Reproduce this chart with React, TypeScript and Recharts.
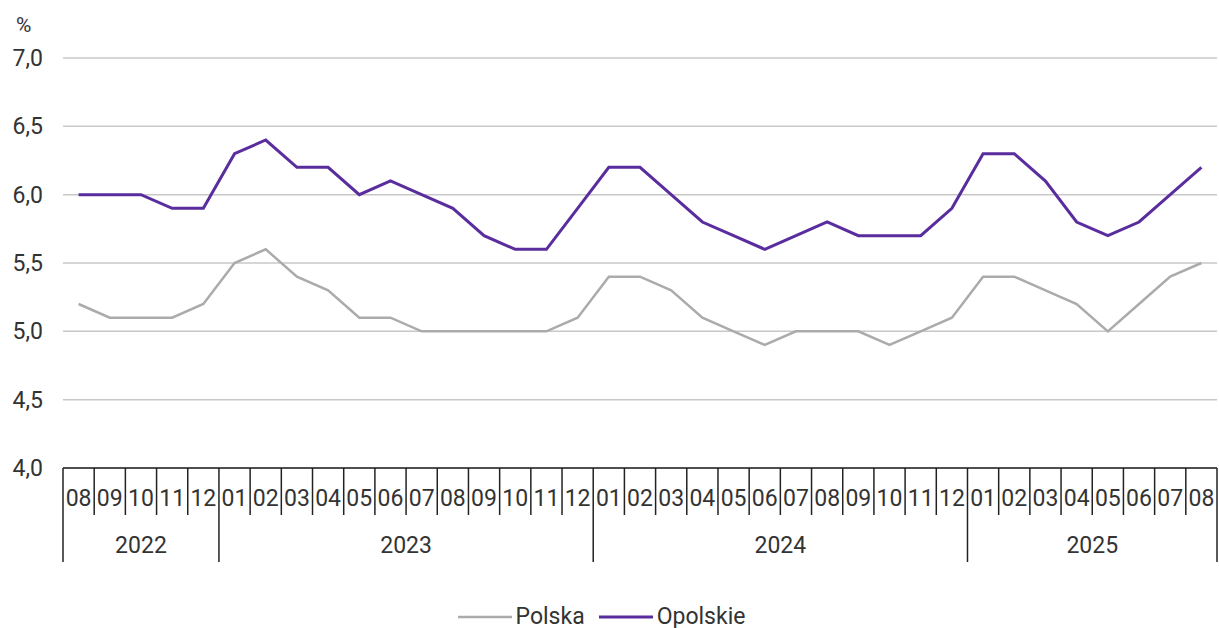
import React from "react";
import { LineChart, Line, XAxis, YAxis, CartesianGrid, Legend } from "recharts";

// months from 2022-08 to 2025-08
const years = ["2022", "2023", "2024", "2025"];
const monthsPerYear = [
  ["08", "09", "10", "11", "12"],
  ["01", "02", "03", "04", "05", "06", "07", "08", "09", "10", "11", "12"],
  ["01", "02", "03", "04", "05", "06", "07", "08", "09", "10", "11", "12"],
  ["01", "02", "03", "04", "05", "06", "07", "08"],
];

const polska = [
  5.2, 5.1, 5.1, 5.1, 5.2,
  5.5, 5.6, 5.4, 5.3, 5.1, 5.1, 5.0, 5.0, 5.0, 5.0, 5.0, 5.1,
  5.4, 5.4, 5.3, 5.1, 5.0, 4.9, 5.0, 5.0, 5.0, 4.9, 5.0, 5.1,
  5.4, 5.4, 5.3, 5.2, 5.0, 5.2, 5.4, 5.5,
];

const opolskie = [
  6.0, 6.0, 6.0, 5.9, 5.9,
  6.3, 6.4, 6.2, 6.2, 6.0, 6.1, 6.0, 5.9, 5.7, 5.6, 5.6, 5.9,
  6.2, 6.2, 6.0, 5.8, 5.7, 5.6, 5.7, 5.8, 5.7, 5.7, 5.7, 5.9,
  6.3, 6.3, 6.1, 5.8, 5.7, 5.8, 6.0, 6.2,
];

const yTicks = [4.0, 4.5, 5.0, 5.5, 6.0, 6.5, 7.0];

const rows = years.flatMap((year, yi) =>
  monthsPerYear[yi].map((month, mi) => ({
    key: `${year}-${month}`,
    year,
    month,
    firstOfYear: mi === 0,
    yearLength: monthsPerYear[yi].length,
  }))
);
const data = rows.map((r, i) => ({ ...r, polska: polska[i], opolskie: opolskie[i] }));

const W = 1219;
const H = 628;
const LEFT = 63;
const RIGHT = 2;
const BAND = (W - LEFT - RIGHT) / data.length;
const FONT = "Roboto, 'Noto Sans', sans-serif";
const TEXT = "#333333";
const GRAY = "#ababab";
const PURPLE = "#5a2d9e";

function MonthTick(props: any) {
  const { x, y, payload, index } = props;
  const row = data[index] || data.find((d) => d.key === payload.value);
  if (!row) return null;
  const left = x - BAND / 2;
  const isLast = index === data.length - 1;
  return (
    <g>
      <line x1={left} x2={left} y1={y} y2={y + (row.firstOfYear ? 94 : 47)} stroke="#222" strokeWidth={1.5} />
      {isLast && (
        <line x1={x + BAND / 2} x2={x + BAND / 2} y1={y} y2={y + 94} stroke="#222" strokeWidth={1.5} />
      )}
      <text x={x} y={y + 38} textAnchor="middle" fontSize={23} fontFamily={FONT} fill={TEXT}>
        {row.month}
      </text>
      {row.firstOfYear && (
        <text
          x={x + ((row.yearLength - 1) / 2) * BAND}
          y={y + 85}
          textAnchor="middle"
          fontSize={23}
          fontFamily={FONT}
          fill={TEXT}
        >
          {row.year}
        </text>
      )}
    </g>
  );
}

function LegendContent() {
  const items = [
    { name: "Polska", color: GRAY, width: 2.5 },
    { name: "Opolskie", color: PURPLE, width: 3 },
  ];
  return (
    <div
      style={{
        height: 58,
        boxSizing: "border-box",
        paddingTop: 36,
        display: "flex",
        justifyContent: "center",
        alignItems: "center",
        fontFamily: FONT,
        fontSize: 23,
        lineHeight: "22px",
        color: TEXT,
      }}
    >
      {items.map((it) => (
        <div key={it.name} style={{ display: "flex", alignItems: "center", marginRight: 14 }}>
          <svg width={54} height={10} style={{ marginRight: 4 }}>
            <line x1={0} x2={54} y1={5} y2={5} stroke={it.color} strokeWidth={it.width} />
          </svg>
          <span>{it.name}</span>
        </div>
      ))}
    </div>
  );
}

export default function App() {
  return (
    <div style={{ position: "absolute", left: 0, top: 0, width: W, height: H, background: "#fff" }}>
      <LineChart width={W} height={H} data={data} margin={{ top: 58, right: RIGHT, bottom: 0, left: 0 }}>
        <CartesianGrid vertical={false} stroke="#c8c8c8" strokeWidth={1.5} />
        <XAxis
          dataKey="key"
          interval={0}
          padding={{ left: BAND / 2, right: BAND / 2 }}
          tickLine={false}
          tickSize={0}
          tickMargin={0}
          axisLine={{ stroke: "#222", strokeWidth: 1.5 }}
          height={102}
          tick={<MonthTick />}
        />
        <YAxis
          width={LEFT}
          domain={[4, 7]}
          ticks={yTicks}
          interval={0}
          axisLine={false}
          tickLine={false}
          tickSize={0}
          tickMargin={20}
          tick={{ fontSize: 23, fontFamily: FONT, fill: TEXT }}
          tickFormatter={(v: number) => v.toFixed(1).replace(".", ",")}
          label={{
            content: () => (
              <text x={16} y={32} fontSize={21} fontFamily={FONT} fill={TEXT}>
                %
              </text>
            ),
          }}
        />
        <Legend verticalAlign="bottom" height={58} content={<LegendContent />} />
        <Line
          dataKey="polska"
          name="Polska"
          stroke={GRAY}
          strokeWidth={2.5}
          dot={false}
          isAnimationActive={false}
        />
        <Line
          dataKey="opolskie"
          name="Opolskie"
          stroke={PURPLE}
          strokeWidth={3}
          dot={false}
          isAnimationActive={false}
        />
      </LineChart>
    </div>
  );
}
